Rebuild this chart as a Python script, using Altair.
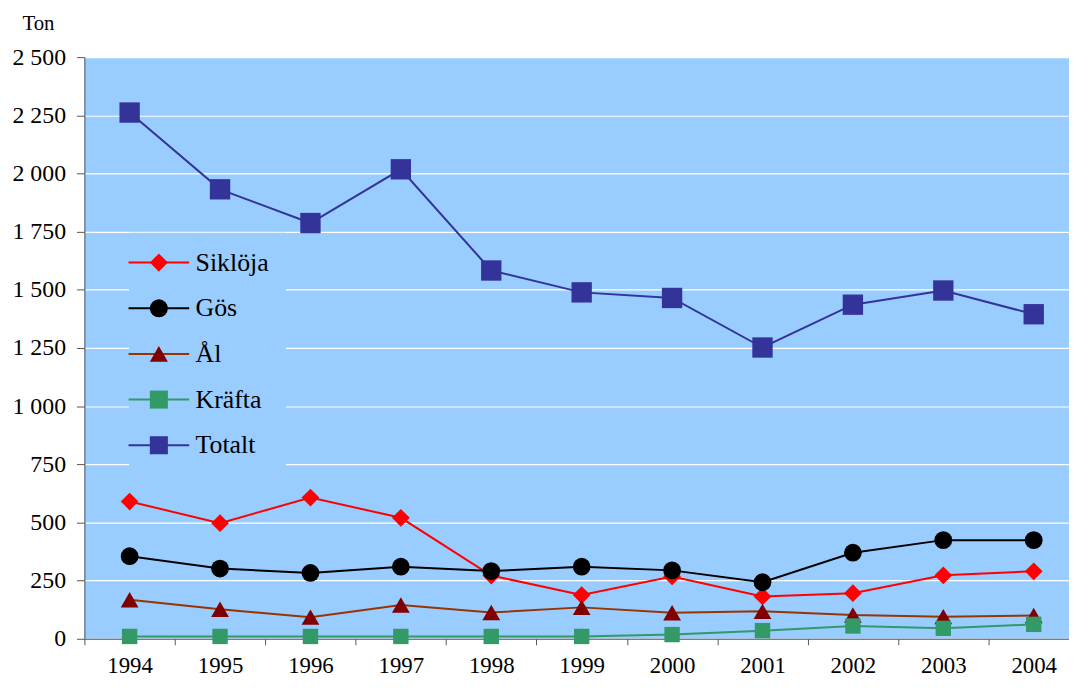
import altair as alt
import pandas as pd

years = ["1994", "1995", "1996", "1997", "1998", "1999", "2000", "2001", "2002", "2003", "2004"]
series = ["Siklöja", "Gös", "Ål", "Kräfta", "Totalt"]
sikloja = [590, 497, 607, 520, 272, 188, 268, 182, 196, 273, 290]
gos = [355, 302, 283, 310, 291, 310, 294, 243, 370, 424, 424]
al = [168, 127, 93, 145, 113, 135, 112, 118, 102, 95, 100]
krafta = [10, 10, 10, 10, 10, 10, 18, 35, 55, 45, 62]
totalt = [2262, 1932, 1787, 2018, 1583, 1489, 1465, 1252, 1436, 1497, 1395]
y_ticks = [0, 250, 500, 750, 1000, 1250, 1500, 1750, 2000, 2250, 2500]

line_colors = ["#FF0000", "#000000", "#993300", "#339966", "#333399"]
point_colors = ["#FF0000", "#000000", "#800000", "#339966", "#333399"]
shapes = ["diamond", "circle", "triangle-up", "square", "square"]

values = {"Siklöja": sikloja, "Gös": gos, "Ål": al, "Kräfta": krafta, "Totalt": totalt}
rows = []
for s in series:
    for y, v in zip(years, values[s]):
        rows.append({"year": y, "serie": s, "serie_l": s, "value": v, "order": series.index(s)})
df = pd.DataFrame(rows)

FONT = "Liberation Serif, Times New Roman, serif"
BG = "#99CCFF"

x_enc = alt.X(
    "year:O",
    sort=years,
    scale=alt.Scale(range=[0, 1002], paddingInner=0, paddingOuter=0),
    axis=alt.Axis(
        title=None, labelAngle=0, tickBand="extent", tickSize=6, labelPadding=10,
        labelFontSize=23, labelFont=FONT, labelColor="black",
        domainColor="#555555", tickColor="#555555", grid=False,
    ),
)
y_enc = alt.Y(
    "value:Q",
    scale=alt.Scale(domain=[0, 2500], nice=False),
    axis=alt.Axis(
        values=y_ticks, title="Ton", titleAngle=0, titleAlign="left",
        titleBaseline="alphabetic", titleX=-63, titleY=-28, titleFont=FONT,
        titleFontSize=21, titleFontWeight="normal", titleColor="black",
        labelExpr="replace(format(datum.value, ','), ',', ' ')",
        labelFontSize=24, labelFont=FONT, labelColor="black", labelPadding=11,
        tickSize=8, tickColor="#555555", domainColor="#555555",
        grid=True, gridColor="#FFFFFF", gridWidth=1.2,
    ),
)

LX, LY, LPAD, ROWPAD, SYM = 45, 177, 17, 20, 330

line_legend = alt.Legend(
    title=None, orient="none", legendX=LX, legendY=LY, padding=LPAD,
    fillColor=BG, symbolType="M-3.36,0H3.36", symbolSize=SYM,
    symbolStrokeWidth=2, labelFontSize=26, labelFont=FONT, labelOpacity=0,
    labelOffset=24, rowPadding=ROWPAD, direction="vertical",
)
point_legend = alt.Legend(
    title=None, orient="none", legendX=LX, legendY=LY, padding=LPAD,
    symbolSize=SYM, symbolStrokeWidth=0, labelFontSize=26, labelFont=FONT,
    labelColor="black", labelOffset=24, rowPadding=ROWPAD, direction="vertical",
)

lines = alt.Chart(df).mark_line(strokeWidth=2).encode(
    x=x_enc,
    y=y_enc,
    color=alt.Color(
        "serie_l:N",
        scale=alt.Scale(domain=series, range=line_colors),
        legend=line_legend,
    ),
)

points = alt.Chart(df).mark_point(filled=True, opacity=1).encode(
    x=x_enc,
    y=y_enc,
    color=alt.Color(
        "serie:N",
        scale=alt.Scale(domain=series, range=point_colors),
        legend=point_legend,
    ),
    shape=alt.Shape("serie:N", scale=alt.Scale(domain=series, range=shapes), legend=point_legend),
    size=alt.when(alt.datum.serie == "Totalt").then(alt.value(420))
        .when(alt.datum.serie == "Kräfta").then(alt.value(240))
        .otherwise(alt.value(320)),
    order=alt.Order("order:Q"),
)

chart = (
    alt.layer(lines, points)
    .resolve_scale(color="independent", shape="independent")
    .resolve_legend(color="independent", shape="independent")
    .properties(
        width=992, height=586,
        autosize=alt.AutoSizeParams(type="none"),
        padding={"left": 77, "top": 47, "right": 0, "bottom": 40},
        view=alt.ViewBackground(fill=BG, strokeWidth=0),
    )
    .configure_view(fill=BG, strokeWidth=0)
    .configure(background="white", font=FONT)
)

chart.save("out.html", embed_options={"renderer": "svg", "actions": False})
